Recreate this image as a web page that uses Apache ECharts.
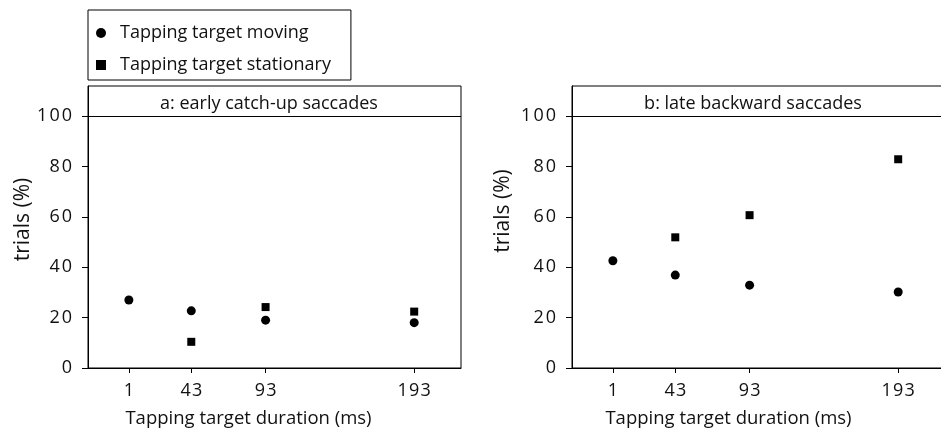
<!DOCTYPE html>
<html>
<head>
<meta charset="utf-8">
<script src="https://cdn.jsdelivr.net/npm/echarts@6/dist/echarts.min.js"></script>
<style>
  html, body { margin: 0; padding: 0; background: #fff; }
  #chart { width: 941px; height: 430px; }
</style>
</head>
<body>
<div id="chart"></div>
<script>
// Tapping target durations (ms) on the x axis
const durations = [1, 43, 93, 193];
// Percentage of trials, one value per duration (null = not measured)
const earlyMoving = [27.0, 22.7, 19.0, 18.0];
const earlyStationary = [null, 10.4, 24.2, 22.4];
const lateMoving = [42.6, 36.9, 32.9, 30.2];
const lateStationary = [null, 51.9, 60.7, 82.9];
// Tick labels
const yTicks = [0, 20, 40, 60, 80, 100];
const panelTitles = ['a: early catch-up saccades', 'b: late backward saccades'];
const seriesNames = ['Tapping target moving', 'Tapping target stationary'];
const xName = 'Tapping target duration (ms)';
const yName = 'trials (%)';

const FONT = 'Open Sans';
const INK = '#111';

function pairs(values) {
  return durations.map((d, i) => [d, values[i]]).filter(p => p[1] !== null);
}

// tick numbers are typeset with a little extra tracking between digits
function spaced(v) {
  return String(v).split('').map(c => '{d|' + c + '}').join('');
}
function digitStyle(pad) {
  return { d: { fontFamily: FONT, fontSize: 18, color: INK, padding: [0, pad, 0, pad] } };
}

// fixed plot boxes; the right panel runs off the page edge
const grids = [
  { left: 88, top: 86, width: 373, height: 282 },
  { left: 572, top: 86, width: 373, height: 282 }
];

function xAxis(gridIndex, namePad) {
  return {
    type: 'value', gridIndex, min: -26.5, max: 224.5,
    name: xName, nameLocation: 'middle', nameGap: 41,
    nameTextStyle: { fontFamily: FONT, fontSize: 18.5, color: INK, padding: [0, namePad, 0, 0] },
    axisLine: { show: true, onZero: false, lineStyle: { color: '#000', width: 1 } },
    axisTick: { show: true, length: 5, inside: false, customValues: durations, lineStyle: { color: '#000' } },
    axisLabel: {
      show: true, margin: 14, customValues: durations,
      formatter: spaced, rich: digitStyle(0.6)
    },
    splitLine: { show: false }
  };
}

function yAxis(gridIndex, nameGap, namePad) {
  return {
    type: 'value', gridIndex, min: 0, max: 112,
    name: yName, nameLocation: 'middle', nameGap, nameRotate: 90,
    nameTextStyle: { fontFamily: FONT, fontSize: 21, color: INK, padding: [0, 0, 0, namePad] },
    axisLine: { show: true, onZero: false, lineStyle: { color: '#000', width: 1 } },
    axisTick: { show: true, length: 6, inside: false, customValues: yTicks, lineStyle: { color: '#000' } },
    axisLabel: {
      show: true, margin: 15, customValues: yTicks,
      formatter: spaced, rich: digitStyle(1)
    },
    splitLine: { show: false }
  };
}

function scatter(name, values, idx, symbol, size, withDivider) {
  const s = {
    type: 'scatter', name, xAxisIndex: idx, yAxisIndex: idx,
    symbol, symbolSize: size,
    itemStyle: { color: '#000', opacity: 1 },
    data: pairs(values),
    silent: true
  };
  if (withDivider) {
    // horizontal rule separating the panel heading strip from the plot
    s.markLine = {
      silent: true, symbol: 'none', label: { show: false },
      lineStyle: { color: '#000', width: 1, type: 'solid', opacity: 1 },
      data: [{ yAxis: 100 }]
    };
  }
  return s;
}

const chart = echarts.init(document.getElementById('chart'), null, { renderer: 'canvas' });
chart.setOption({
  animation: false,
  backgroundColor: '#fff',
  title: [
    { text: panelTitles[0], left: 264, top: 90, textAlign: 'center',
      textStyle: { fontFamily: FONT, fontSize: 18, fontWeight: 'normal', color: INK } },
    { text: panelTitles[1], left: 748, top: 90, textAlign: 'center',
      textStyle: { fontFamily: FONT, fontSize: 18, fontWeight: 'normal', color: INK } }
  ],
  legend: {
    orient: 'vertical', left: 88, top: 10,
    padding: [13, 20, 5, 8],
    itemWidth: 10, itemHeight: 10, itemGap: 12,
    borderColor: '#000', borderWidth: 1,
    textStyle: { fontFamily: FONT, fontSize: 18, color: INK, lineHeight: 20, padding: [0, 0, 0, 9] },
    data: [
      { name: seriesNames[0], icon: 'circle' },
      { name: seriesNames[1], icon: 'rect' }
    ]
  },
  grid: grids.map(g => Object.assign({
    show: true, borderColor: '#000', borderWidth: 1, backgroundColor: 'transparent',
    containLabel: false, outerBoundsMode: 'none'
  }, g)),
  xAxis: [xAxis(0, 52), xAxis(1, 60)],
  yAxis: [yAxis(0, 51, 15), yAxis(1, 58, 32)],
  series: [
    scatter(seriesNames[0], earlyMoving, 0, 'circle', 9, true),
    scatter(seriesNames[1], earlyStationary, 0, 'rect', 8, false),
    scatter(seriesNames[0], lateMoving, 1, 'circle', 9, true),
    scatter(seriesNames[1], lateStationary, 1, 'rect', 8, false)
  ]
});
</script>
</body>
</html>
